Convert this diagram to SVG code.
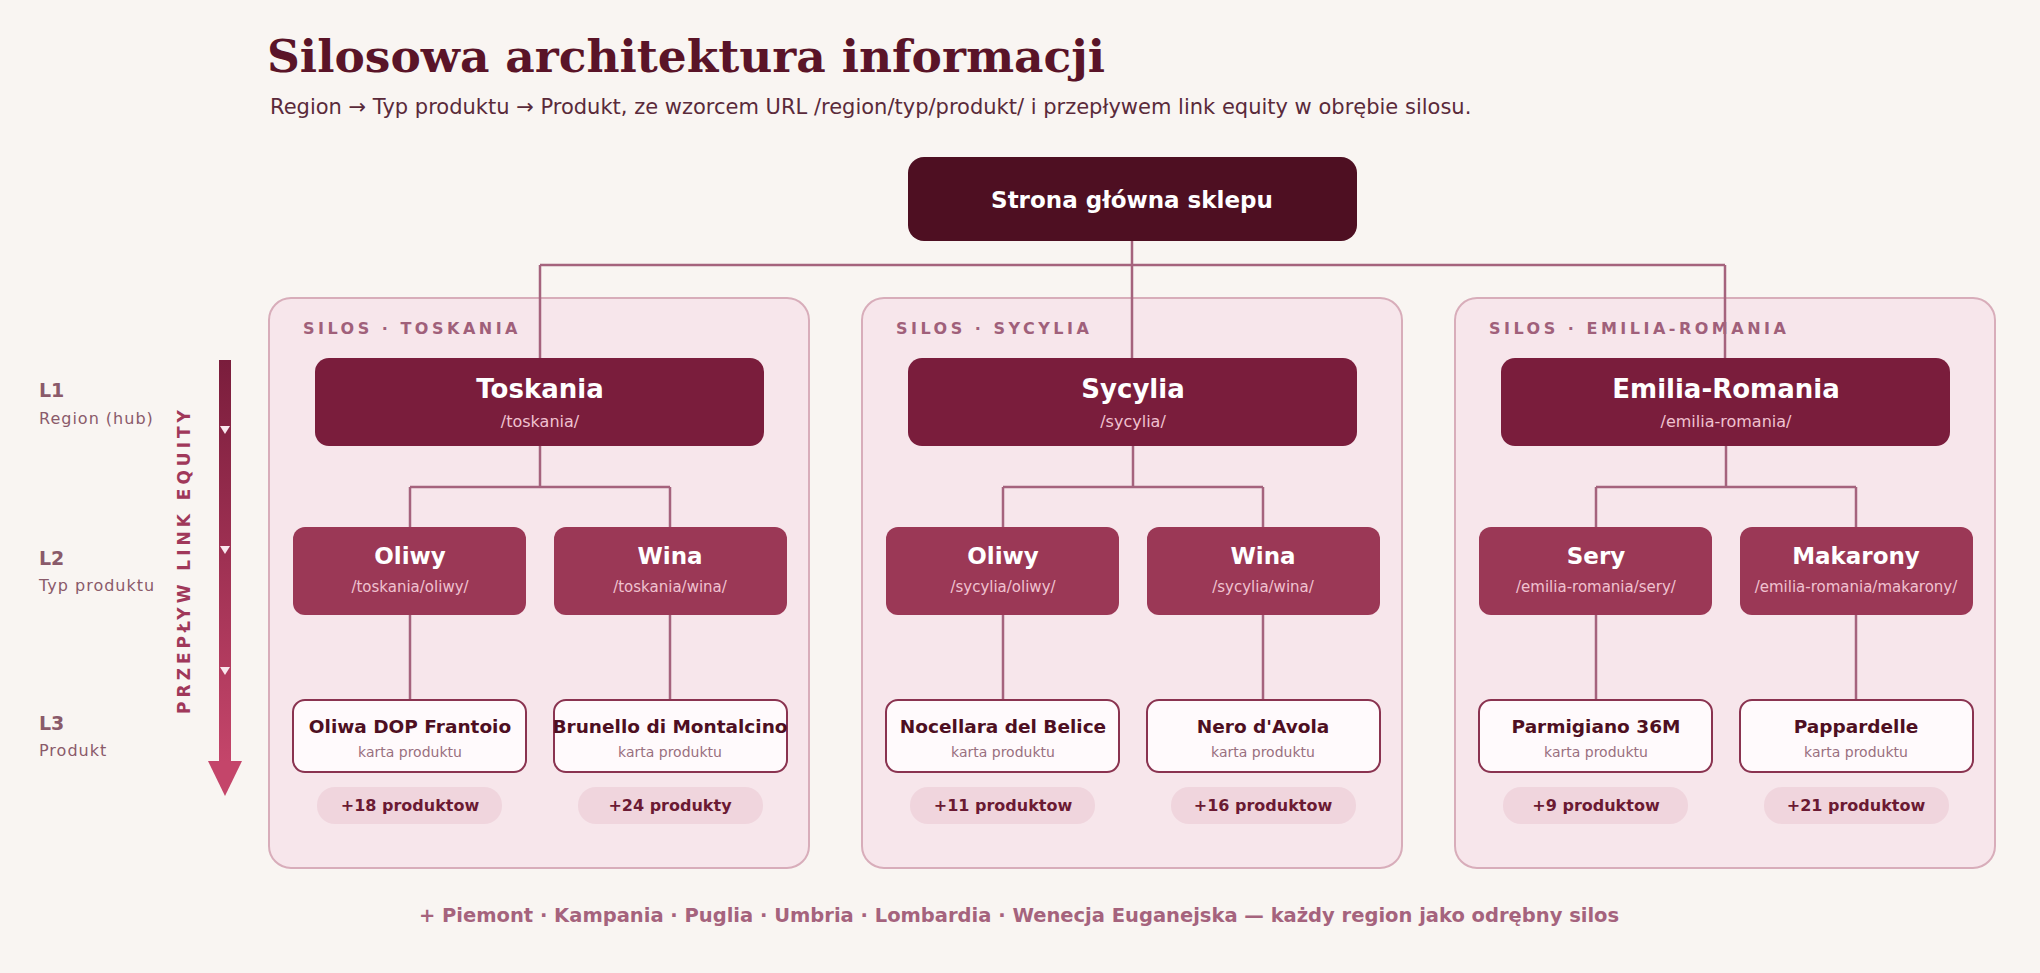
<svg xmlns="http://www.w3.org/2000/svg" width="2040" height="973" viewBox="0 0 2040 973">
<defs>
<style>
.t{font-family:"DejaVu Sans",sans-serif}
.title{font-family:"DejaVu Serif",serif;font-weight:bold;font-size:45.5px;fill:#5a1428}
.sub{font-size:21px;fill:#5a2a3a}
.silo{fill:#f7e6eb;stroke:#d8adba;stroke-width:2}
.slab{font-size:16px;font-weight:bold;letter-spacing:3.5px;fill:#a0607a}
.l1{fill:#7a1d3c}
.l2{fill:#9b3856}
.l3{fill:#fffafc;stroke:#8a3350;stroke-width:2}
.pill{fill:#f0d5dd}
.h1{font-size:26px;font-weight:bold;fill:#fff;text-anchor:middle}
.h2{font-size:23px;font-weight:bold;fill:#fff;text-anchor:middle}
.u{font-size:16px;fill:#f0c2d0;text-anchor:middle}
.h3{font-size:18.5px;font-weight:bold;fill:#4e0f22;text-anchor:middle}
.k{font-size:14px;fill:#9a7080;text-anchor:middle}
.p{font-size:16px;font-weight:bold;fill:#6b1a33;text-anchor:middle}
.ln{fill:none;stroke:#a5637d;stroke-width:2.5}
.lv{font-size:19px;font-weight:bold;fill:#8a5a6a}
.ls{font-size:16px;fill:#8a5a6a;letter-spacing:1px}
</style>
<linearGradient id="g" x1="0" y1="0" x2="0" y2="1"><stop offset="0" stop-color="#7a1d3c"/><stop offset="1" stop-color="#c4456a"/></linearGradient>
</defs>
<rect width="2040" height="973" fill="#f9f5f2"/>
<text class="title" x="267" y="72">Silosowa architektura informacji</text>
<text class="t sub" x="270" y="114">Region → Typ produktu → Produkt, ze wzorcem URL /region/typ/produkt/ i przepływem link equity w obrębie silosu.</text>

<g id="axis" class="t">
<text class="lv" x="39" y="397">L1</text><text class="ls" x="39" y="424">Region (hub)</text>
<text class="lv" x="39" y="565">L2</text><text class="ls" x="39" y="591">Typ produktu</text>
<text class="lv" x="39" y="730">L3</text><text class="ls" x="39" y="756">Produkt</text>
<rect x="219" y="360" width="12" height="402" fill="url(#g)"/>
<polygon points="208,761 242,761 225,796" fill="#c4456a"/>
<polygon points="220,426 230,426 225,434" fill="#f9e8ee"/>
<polygon points="220,546 230,546 225,554" fill="#f9e8ee"/>
<polygon points="220,667 230,667 225,675" fill="#f9e8ee"/>
<text x="190" y="560" transform="rotate(-90 190 560)" text-anchor="middle" style="font-size:17px;font-weight:bold;letter-spacing:4px;fill:#a0385a">PRZEPŁYW LINK EQUITY</text>
</g>

<g id="silo-toskania" class="t"><rect class="silo" x="269" y="298" width="540" height="570" rx="22"/><text class="slab" x="303" y="334">SILOS · TOSKANIA</text></g>
<g id="silo-sycylia" class="t"><rect class="silo" x="862" y="298" width="540" height="570" rx="22"/><text class="slab" x="896" y="334">SILOS · SYCYLIA</text></g>
<g id="silo-emilia" class="t"><rect class="silo" x="1455" y="298" width="540" height="570" rx="22"/><text class="slab" x="1489" y="334">SILOS · EMILIA-ROMANIA</text></g>

<g id="connectors">
<path class="ln" d="M1132 241V265M540 265H1725M540 265V358M1132 265V358M1725 265V358"/>
<path class="ln" d="M540 446V487M410 487H670M410 487V527M670 487V527M410 615V700M670 615V700"/>
<path class="ln" d="M1133 446V487M1003 487H1263M1003 487V527M1263 487V527M1003 615V700M1263 615V700"/>
<path class="ln" d="M1726 446V487M1596 487H1856M1596 487V527M1856 487V527M1596 615V700M1856 615V700"/>
</g>

<g id="home" class="t"><rect x="908" y="157" width="449" height="84" rx="16" fill="#4e0f22"/><text class="h2" x="1132" y="208" style="font-size:23px">Strona główna sklepu</text></g>

<g id="toskania" class="t"><rect class="l1" x="315" y="358" width="449" height="88" rx="14"/><text class="h1" x="540" y="398">Toskania</text><text class="u" x="540" y="427">/toskania/</text></g>
<g id="tos-oliwy" class="t"><rect class="l2" x="293" y="527" width="233" height="88" rx="12"/><text class="h2" x="410" y="564">Oliwy</text><text class="u" x="410" y="592" style="font-size:15px">/toskania/oliwy/</text></g>
<g id="tos-wina" class="t"><rect class="l2" x="554" y="527" width="233" height="88" rx="12"/><text class="h2" x="670" y="564">Wina</text><text class="u" x="670" y="592" style="font-size:15px">/toskania/wina/</text></g>
<g id="tos-p1" class="t"><rect class="l3" x="293" y="700" width="233" height="72" rx="12"/><text class="h3" x="410" y="733">Oliwa DOP Frantoio</text><text class="k" x="410" y="757">karta produktu</text></g>
<g id="tos-p2" class="t"><rect class="l3" x="554" y="700" width="233" height="72" rx="12"/><text class="h3" x="670" y="733">Brunello di Montalcino</text><text class="k" x="670" y="757">karta produktu</text></g>
<g id="tos-m1" class="t"><rect class="pill" x="317" y="787" width="185" height="37" rx="18"/><text class="p" x="410" y="811">+18 produktow</text></g>
<g id="tos-m2" class="t"><rect class="pill" x="578" y="787" width="185" height="37" rx="18"/><text class="p" x="670" y="811">+24 produkty</text></g>

<g id="sycylia" class="t"><rect class="l1" x="908" y="358" width="449" height="88" rx="14"/><text class="h1" x="1133" y="398">Sycylia</text><text class="u" x="1133" y="427">/sycylia/</text></g>
<g id="syc-oliwy" class="t"><rect class="l2" x="886" y="527" width="233" height="88" rx="12"/><text class="h2" x="1003" y="564">Oliwy</text><text class="u" x="1003" y="592" style="font-size:15px">/sycylia/oliwy/</text></g>
<g id="syc-wina" class="t"><rect class="l2" x="1147" y="527" width="233" height="88" rx="12"/><text class="h2" x="1263" y="564">Wina</text><text class="u" x="1263" y="592" style="font-size:15px">/sycylia/wina/</text></g>
<g id="syc-p1" class="t"><rect class="l3" x="886" y="700" width="233" height="72" rx="12"/><text class="h3" x="1003" y="733">Nocellara del Belice</text><text class="k" x="1003" y="757">karta produktu</text></g>
<g id="syc-p2" class="t"><rect class="l3" x="1147" y="700" width="233" height="72" rx="12"/><text class="h3" x="1263" y="733">Nero d'Avola</text><text class="k" x="1263" y="757">karta produktu</text></g>
<g id="syc-m1" class="t"><rect class="pill" x="910" y="787" width="185" height="37" rx="18"/><text class="p" x="1003" y="811">+11 produktow</text></g>
<g id="syc-m2" class="t"><rect class="pill" x="1171" y="787" width="185" height="37" rx="18"/><text class="p" x="1263" y="811">+16 produktow</text></g>

<g id="emilia" class="t"><rect class="l1" x="1501" y="358" width="449" height="88" rx="14"/><text class="h1" x="1726" y="398">Emilia-Romania</text><text class="u" x="1726" y="427">/emilia-romania/</text></g>
<g id="emi-sery" class="t"><rect class="l2" x="1479" y="527" width="233" height="88" rx="12"/><text class="h2" x="1596" y="564">Sery</text><text class="u" x="1596" y="592" style="font-size:15px">/emilia-romania/sery/</text></g>
<g id="emi-mak" class="t"><rect class="l2" x="1740" y="527" width="233" height="88" rx="12"/><text class="h2" x="1856" y="564">Makarony</text><text class="u" x="1856" y="592" style="font-size:15px">/emilia-romania/makarony/</text></g>
<g id="emi-p1" class="t"><rect class="l3" x="1479" y="700" width="233" height="72" rx="12"/><text class="h3" x="1596" y="733">Parmigiano 36M</text><text class="k" x="1596" y="757">karta produktu</text></g>
<g id="emi-p2" class="t"><rect class="l3" x="1740" y="700" width="233" height="72" rx="12"/><text class="h3" x="1856" y="733">Pappardelle</text><text class="k" x="1856" y="757">karta produktu</text></g>
<g id="emi-m1" class="t"><rect class="pill" x="1503" y="787" width="185" height="37" rx="18"/><text class="p" x="1596" y="811">+9 produktow</text></g>
<g id="emi-m2" class="t"><rect class="pill" x="1764" y="787" width="185" height="37" rx="18"/><text class="p" x="1856" y="811">+21 produktow</text></g>

<text class="t" x="1019" y="922" text-anchor="middle" style="font-size:19.5px;font-weight:bold;fill:#a5637d">+ Piemont · Kampania · Puglia · Umbria · Lombardia · Wenecja Euganejska — każdy region jako odrębny silos</text>
</svg>
